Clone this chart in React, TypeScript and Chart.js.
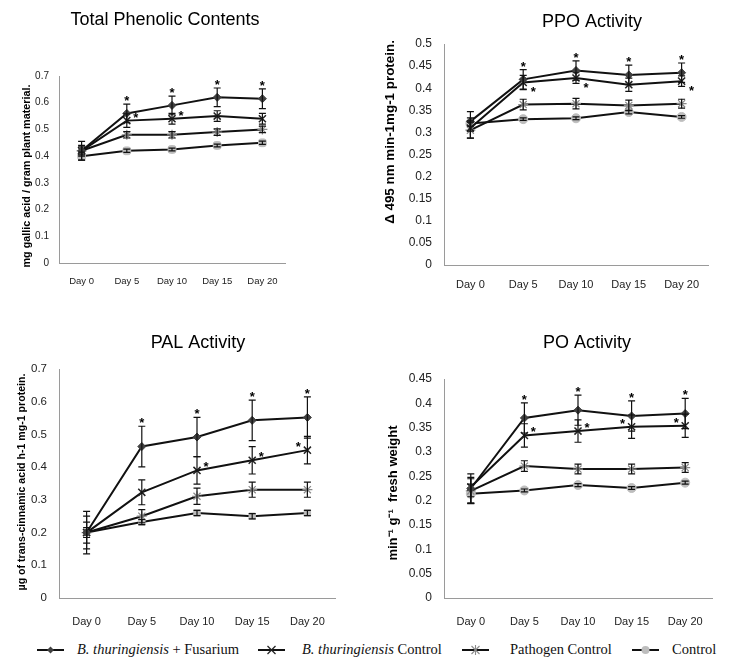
import React, { useEffect, useRef } from 'react';
import { Chart, registerables } from 'chart.js';

Chart.register(...registerables);

// ---------------- DATA ----------------
const days = ['Day 0', 'Day 5', 'Day 10', 'Day 15', 'Day 20'];
const seriesLabels = ['B. thuringiensis + Fusarium', 'B. thuringiensis Control', 'Pathogen Control', 'Control'];

// Total Phenolic Contents
const tpcBtFusarium = [0.42, 0.56, 0.59, 0.62, 0.615];
const tpcBtFusariumErr = [0.035, 0.035, 0.035, 0.035, 0.037];
const tpcBtControl = [0.42, 0.533, 0.54, 0.55, 0.54];
const tpcBtControlErr = [0.02, 0.025, 0.02, 0.02, 0.02];
const tpcPathogen = [0.42, 0.48, 0.48, 0.49, 0.5];
const tpcPathogenErr = [0.015, 0.012, 0.012, 0.012, 0.012];
const tpcControl = [0.4, 0.42, 0.425, 0.44, 0.45];
const tpcControlErr = [0.015, 0.006, 0.005, 0.005, 0.006];
const tpcStars: [number, number, string][] = [[0, 1, 'above'], [0, 2, 'above'], [0, 3, 'above'], [0, 4, 'above'], [1, 1, 'ne'], [1, 2, 'ne']];

// PPO Activity
const ppoBtFusarium = [0.325, 0.42, 0.44, 0.43, 0.435];
const ppoBtFusariumErr = [0.022, 0.022, 0.022, 0.022, 0.022];
const ppoBtControl = [0.31, 0.413, 0.423, 0.408, 0.416];
const ppoBtControlErr = [0.023, 0.016, 0.012, 0.015, 0.012];
const ppoPathogen = [0.305, 0.363, 0.365, 0.361, 0.365];
const ppoPathogenErr = [0.018, 0.012, 0.012, 0.012, 0.01];
const ppoControl = [0.32, 0.33, 0.332, 0.346, 0.335];
const ppoControlErr = [0.006, 0.003, 0.003, 0.004, 0.003];
const ppoStars: [number, number, string][] = [[0, 1, 'above'], [0, 2, 'above'], [0, 3, 'above'], [0, 4, 'above'], [1, 1, 'se'], [1, 2, 'se'], [1, 4, 'se']];

// PAL Activity
const palBtFusarium = [0.2, 0.463, 0.492, 0.543, 0.552];
const palBtFusariumErr = [0.065, 0.062, 0.06, 0.062, 0.063];
const palBtControl = [0.2, 0.323, 0.39, 0.421, 0.452];
const palBtControlErr = [0.05, 0.038, 0.042, 0.042, 0.042];
const palPathogen = [0.2, 0.25, 0.311, 0.331, 0.331];
const palPathogenErr = [0.032, 0.02, 0.025, 0.023, 0.023];
const palControl = [0.2, 0.232, 0.26, 0.25, 0.26];
const palControlErr = [0.015, 0.008, 0.008, 0.008, 0.008];
const palStars: [number, number, string][] = [[0, 1, 'above'], [0, 2, 'above'], [0, 3, 'above'], [0, 4, 'above'], [1, 2, 'ne'], [1, 3, 'ne'], [1, 4, 'nw']];

// PO Activity
const poBtFusarium = [0.225, 0.37, 0.386, 0.374, 0.379];
const poBtFusariumErr = [0.03, 0.031, 0.031, 0.031, 0.031];
const poBtControl = [0.228, 0.334, 0.343, 0.352, 0.354];
const poBtControlErr = [0.02, 0.024, 0.023, 0.024, 0.024];
const poPathogen = [0.22, 0.271, 0.265, 0.265, 0.268];
const poPathogenErr = [0.025, 0.011, 0.01, 0.01, 0.01];
const poControl = [0.214, 0.221, 0.232, 0.226, 0.237];
const poControlErr = [0.02, 0.003, 0.003, 0.003, 0.003];
const poStars: [number, number, string][] = [[0, 1, 'above'], [0, 2, 'above'], [0, 3, 'above'], [0, 4, 'above'], [1, 1, 'ne'], [1, 2, 'ne'], [1, 3, 'nw'], [1, 4, 'nw']];

// ---------------- STYLE / LAYOUT ----------------
const SANS = '"Liberation Sans", Arial, sans-serif';

type Panel = {
  title: string;
  yTitle: string;
  series: number[][];
  errors: number[][];
  stars: [number, number, string][];
  yMax: number;
  yStep: number;
  box: { left: number; top: number; width: number; height: number };
  area: { left: number; right: number; top: number; bottom: number };
  titlePos: [number, number];
  yTitlePos: [number, number];
  yTitleFont: string;
  yTickSize: number;
  xTickSize: number;
  yTickPad: number;
  xTickPad: number;
  controlStyle: string;
};

const panels: Panel[] = [
  {
    title: 'Total Phenolic Contents',
    yTitle: 'mg gallic acid / gram plant material.',
    series: [tpcBtFusarium, tpcBtControl, tpcPathogen, tpcControl],
    errors: [tpcBtFusariumErr, tpcBtControlErr, tpcPathogenErr, tpcControlErr],
    stars: tpcStars,
    yMax: 0.7, yStep: 0.1,
    box: { left: 0, top: 0, width: 365, height: 320 },
    area: { left: 59, right: 285, top: 76, bottom: 263 },
    titlePos: [165, 20], yTitlePos: [27, 176],
    yTitleFont: `bold 10.8px ${SANS}`,
    yTickSize: 10, xTickSize: 9.5, yTickPad: 10, xTickPad: 13,
    controlStyle: 'rectRounded',
  },
  {
    title: 'PPO Activity',
    yTitle: 'Δ 495 nm min-1mg-1 protein.',
    series: [ppoBtFusarium, ppoBtControl, ppoPathogen, ppoControl],
    errors: [ppoBtFusariumErr, ppoBtControlErr, ppoPathogenErr, ppoControlErr],
    stars: ppoStars,
    yMax: 0.5, yStep: 0.05,
    box: { left: 365, top: 0, width: 365, height: 320 },
    area: { left: 79, right: 343, top: 44, bottom: 265 },
    titlePos: [227, 22], yTitlePos: [25, 132],
    yTitleFont: `bold 13.4px ${SANS}`,
    yTickSize: 12, xTickSize: 11, yTickPad: 12, xTickPad: 13,
    controlStyle: 'circle',
  },
  {
    title: 'PAL Activity',
    yTitle: 'µg of trans-cinnamic acid h-1 mg-1 protein.',
    series: [palBtFusarium, palBtControl, palPathogen, palControl],
    errors: [palBtFusariumErr, palBtControlErr, palPathogenErr, palControlErr],
    stars: palStars,
    yMax: 0.7, yStep: 0.1,
    box: { left: 0, top: 320, width: 365, height: 310 },
    area: { left: 59, right: 335, top: 49, bottom: 278 },
    titlePos: [198, 23], yTitlePos: [22, 162],
    yTitleFont: `bold 10.6px ${SANS}`,
    yTickSize: 11.5, xTickSize: 11, yTickPad: 12, xTickPad: 17,
    controlStyle: 'rect',
  },
  {
    title: 'PO Activity',
    yTitle: 'min⁻¹ g⁻¹  fresh weight',
    series: [poBtFusarium, poBtControl, poPathogen, poControl],
    errors: [poBtFusariumErr, poBtControlErr, poPathogenErr, poControlErr],
    stars: poStars,
    yMax: 0.45, yStep: 0.05,
    box: { left: 365, top: 320, width: 365, height: 310 },
    area: { left: 79, right: 347, top: 59, bottom: 278 },
    titlePos: [222, 23], yTitlePos: [28, 173],
    yTitleFont: `bold 13px ${SANS}`,
    yTickSize: 12, xTickSize: 11, yTickPad: 12, xTickPad: 17,
    controlStyle: 'circle',
  },
];

// ---------------- PLUGINS ----------------
const errorBarPlugin = {
  id: 'errorBars',
  afterDatasetsDraw(chart: any) {
    const ctx = chart.ctx;
    const ys = chart.scales.y;
    ctx.save();
    ctx.strokeStyle = '#111';
    ctx.lineWidth = 1.2;
    chart.data.datasets.forEach((ds: any, i: number) => {
      const meta = chart.getDatasetMeta(i);
      const errs: number[] = ds.errors || [];
      meta.data.forEach((pt: any, j: number) => {
        const v = ds.data[j];
        const e = errs[j];
        if (!e) return;
        const yt = ys.getPixelForValue(v + e);
        const yb = ys.getPixelForValue(v - e);
        const x = pt.x;
        const cap = 3.5;
        ctx.beginPath();
        ctx.moveTo(x, yt);
        ctx.lineTo(x, yb);
        ctx.moveTo(x - cap, yt);
        ctx.lineTo(x + cap, yt);
        ctx.moveTo(x - cap, yb);
        ctx.lineTo(x + cap, yb);
        ctx.stroke();
      });
    });
    ctx.restore();
  },
};

const decoPlugin = {
  id: 'deco',
  afterDraw(chart: any, _args: any, opts: any) {
    const ctx = chart.ctx;
    const ys = chart.scales.y;
    ctx.save();
    // title
    ctx.fillStyle = '#000';
    ctx.font = `18px ${SANS}`;
    ctx.textAlign = 'center';
    ctx.textBaseline = 'middle';
    ctx.fillText(opts.title, opts.titlePos[0], opts.titlePos[1]);
    // y title
    ctx.save();
    ctx.translate(opts.yTitlePos[0], opts.yTitlePos[1]);
    ctx.rotate(-Math.PI / 2);
    ctx.font = opts.yTitleFont;
    ctx.fillText(opts.yTitle, 0, 0);
    ctx.restore();
    // significance asterisks
    ctx.font = `bold 13px ${SANS}`;
    ctx.textAlign = 'center';
    ctx.textBaseline = 'alphabetic';
    (opts.stars || []).forEach(([si, di, pos]: [number, number, string]) => {
      const ds = chart.data.datasets[si];
      const pt = chart.getDatasetMeta(si).data[di];
      if (!pt) return;
      const v = ds.data[di];
      const e = (ds.errors || [])[di] || 0;
      let cx = pt.x;
      let cy = pt.y;
      if (pos === 'above') cy = ys.getPixelForValue(v + e) - 6;
      else if (pos === 'ne') { cx = pt.x + 9; cy = pt.y - 6; }
      else if (pos === 'se') { cx = pt.x + 10; cy = pt.y + 7; }
      else if (pos === 'nw') { cx = pt.x - 9; cy = pt.y - 6; }
      ctx.fillText('*', cx, cy + 7);
    });
    ctx.restore();
  },
};

// ---------------- COMPONENTS ----------------
function PanelChart({ p }: { p: Panel }) {
  const ref = useRef<HTMLCanvasElement>(null);
  useEffect(() => {
    const canvas = ref.current;
    if (!canvas) return;
    const markerStyles = [
      { pointStyle: 'rectRot', radius: 4, bg: '#404040', border: '#404040', bw: 1 },
      { pointStyle: 'crossRot', radius: 5, bg: '#222', border: '#222', bw: 1.5 },
      { pointStyle: 'star', radius: 5, bg: '#8a8a8a', border: '#8a8a8a', bw: 1.2 },
      { pointStyle: p.controlStyle, radius: 4.5, bg: '#bdbdbd', border: '#bdbdbd', bw: 1 },
    ];
    const datasets = p.series.map((vals, i) => ({
      label: seriesLabels[i],
      data: vals,
      errors: p.errors[i],
      borderColor: '#111',
      borderWidth: 2,
      tension: 0,
      fill: false,
      pointStyle: markerStyles[i].pointStyle,
      pointRadius: markerStyles[i].radius,
      pointBackgroundColor: markerStyles[i].bg,
      pointBorderColor: markerStyles[i].border,
      pointBorderWidth: markerStyles[i].bw,
    }));
    const chart = new Chart(canvas, {
      type: 'line',
      data: { labels: days, datasets: datasets as any },
      options: {
        animation: false,
        responsive: false,
        devicePixelRatio: 1,
        layout: {
          padding: { left: 0, top: p.area.top, right: p.box.width - p.area.right, bottom: 0 },
        },
        plugins: {
          legend: { display: false },
          tooltip: { enabled: false },
          title: { display: false },
          deco: {
            title: p.title,
            yTitle: p.yTitle,
            titlePos: p.titlePos,
            yTitlePos: p.yTitlePos,
            yTitleFont: p.yTitleFont,
            stars: p.stars,
          },
        } as any,
        scales: {
          x: {
            type: 'category',
            offset: true,
            grid: { display: false, drawTicks: false },
            border: { color: '#9a9a9a', width: 1 },
            ticks: {
              font: { family: SANS, size: p.xTickSize },
              color: '#222',
              padding: p.xTickPad,
              autoSkip: false,
              maxRotation: 0,
            },
            afterFit: (s: any) => { s.height = p.box.height - p.area.bottom; },
          },
          y: {
            min: 0,
            max: p.yMax,
            grid: { display: false, drawTicks: false },
            border: { color: '#9a9a9a', width: 1 },
            ticks: {
              stepSize: p.yStep,
              font: { family: SANS, size: p.yTickSize },
              color: '#222',
              padding: p.yTickPad,
              callback: (v: any) => {
                const n = Number(v);
                return n === 0 ? '0' : String(parseFloat(n.toFixed(2)));
              },
            },
            afterFit: (s: any) => { s.width = p.area.left; },
          },
        } as any,
      },
      plugins: [errorBarPlugin, decoPlugin],
    });
    return () => chart.destroy();
  }, [p]);
  return (
    <canvas
      ref={ref}
      width={p.box.width}
      height={p.box.height}
      style={{ position: 'absolute', left: p.box.left, top: p.box.top, width: p.box.width, height: p.box.height }}
    />
  );
}

function LegendSymbol({ kind }: { kind: number }) {
  const w = 27;
  const h = 14;
  const c = w / 2;
  const m = h / 2;
  let marker: any = null;
  if (kind === 0) {
    marker = <polygon points={`${c},${m - 3.5} ${c + 3.5},${m} ${c},${m + 3.5} ${c - 3.5},${m}`} fill="#404040" />;
  } else if (kind === 1) {
    marker = (
      <g stroke="#222" strokeWidth={1.3}>
        <line x1={c - 4} y1={m - 4} x2={c + 4} y2={m + 4} />
        <line x1={c - 4} y1={m + 4} x2={c + 4} y2={m - 4} />
      </g>
    );
  } else if (kind === 2) {
    marker = (
      <g stroke="#8a8a8a" strokeWidth={1.1}>
        <line x1={c - 4} y1={m - 4} x2={c + 4} y2={m + 4} />
        <line x1={c - 4} y1={m + 4} x2={c + 4} y2={m - 4} />
        <line x1={c} y1={m - 5} x2={c} y2={m + 5} />
      </g>
    );
  } else {
    marker = <circle cx={c} cy={m} r={4} fill="#bdbdbd" />;
  }
  return (
    <svg width={w} height={h} style={{ display: 'block' }}>
      <line x1={0} y1={m} x2={w} y2={m} stroke="#111" strokeWidth={2} />
      {marker}
    </svg>
  );
}

const legendItems = [
  { sym: 0, symX: 37, textX: 77 },
  { sym: 1, symX: 258, textX: 302 },
  { sym: 2, symX: 462, textX: 510 },
  { sym: 3, symX: 632, textX: 672 },
];

function Legend() {
  const y = 650;
  const font = { fontFamily: '"Liberation Serif", "Times New Roman", serif', fontSize: 14.5, color: '#111', lineHeight: '17px' };
  return (
    <>
      {legendItems.map((it, i) => (
        <React.Fragment key={i}>
          <div style={{ position: 'absolute', left: it.symX, top: y - 7 }}>
            <LegendSymbol kind={it.sym} />
          </div>
          <div style={{ position: 'absolute', left: it.textX, top: y - 9, whiteSpace: 'nowrap', ...font }}>
            {i === 0 && (<><i>B. thuringiensis</i> + Fusarium</>)}
            {i === 1 && (<><i>B. thuringiensis</i> Control</>)}
            {i === 2 && <>{seriesLabels[2]}</>}
            {i === 3 && <>{seriesLabels[3]}</>}
          </div>
        </React.Fragment>
      ))}
    </>
  );
}

export default function App() {
  return (
    <div style={{ position: 'absolute', left: 0, top: 0, width: 730, height: 670, background: '#fff', overflow: 'hidden' }}>
      {panels.map((p, i) => (
        <PanelChart key={i} p={p} />
      ))}
      <Legend />
    </div>
  );
}
